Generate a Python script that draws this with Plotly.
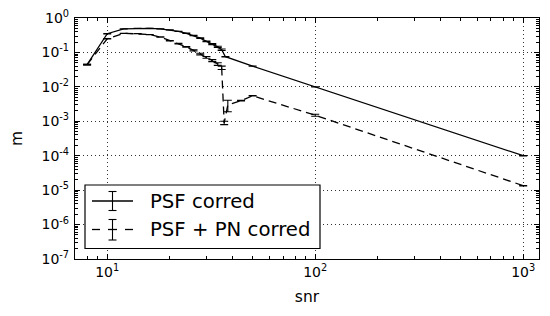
import plotly.graph_objects as go

# PSF corred (solid)
snr_a = [8, 10, 12, 14, 16, 18, 20, 22, 24, 26, 28, 30, 32, 34, 35.5, 37, 50, 100, 1000]
m_a = [0.044, 0.35, 0.48, 0.50, 0.50, 0.48, 0.45, 0.41, 0.36, 0.31, 0.26, 0.21, 0.175, 0.145, 0.12, 0.075, 0.040, 0.010, 0.0001]
err_a = [0.001, 0.003, 0.002, 0.002, 0.002, 0.002, 0.003, 0.003, 0.004, 0.004, 0.005, 0.005, 0.006, 0.006, 0.006, 0.001, 0.0005, 0.0001, 0.000001]

# PSF + PN corred (dashed)
snr_b = [8, 10, 12, 14, 16, 18, 20, 22, 24, 26, 28, 30, 32, 34, 35.5, 36.5, 38, 44, 50, 100, 1000]
m_b = [0.044, 0.25, 0.36, 0.35, 0.33, 0.28, 0.22, 0.18, 0.145, 0.115, 0.09, 0.072, 0.058, 0.046, 0.036, 0.0009, 0.0030, 0.0040, 0.0055, 0.0015, 0.0000135]
err_b = [0.001, 0.003, 0.002, 0.002, 0.002, 0.003, 0.003, 0.004, 0.004, 0.005, 0.005, 0.004, 0.004, 0.004, 0.004, 0.0001, 0.0011, 0.0001, 0.0001, 0.0001, 0.0000002]

series_names = ["PSF corred", "PSF + PN corred"]

xtick_vals = [10, 100, 1000]
xtick_text = ["10<sup>1</sup>", "10<sup>2</sup>", "10<sup>3</sup>"]
ytick_vals = [1, 1e-1, 1e-2, 1e-3, 1e-4, 1e-5, 1e-6, 1e-7]
ytick_text = ["10<sup>0</sup>", "10<sup>-1</sup>", "10<sup>-2</sup>", "10<sup>-3</sup>",
              "10<sup>-4</sup>", "10<sup>-5</sup>", "10<sup>-6</sup>", "10<sup>-7</sup>"]
x_minor = [k * 10 ** e for e in range(0, 4) for k in range(2, 10)]
y_minor = [k * 10.0 ** e for e in range(-7, 0) for k in range(2, 10)]

fig = go.Figure()
fig.add_trace(go.Scatter(
    x=snr_a, y=m_a, mode="lines", name=series_names[0], showlegend=False,
    line=dict(color="black", width=1.3),
    error_y=dict(type="data", array=err_a, color="black", thickness=1.1, width=4),
))
fig.add_trace(go.Scatter(
    x=snr_b, y=m_b, mode="lines", name=series_names[1], showlegend=False,
    line=dict(color="black", width=1.3, dash="8px,5px"),
    error_y=dict(type="data", array=err_b, color="black", thickness=1.1, width=4),
))

axis_common = dict(
    type="log", showline=True, linecolor="black", linewidth=1.2, mirror="allticks",
    ticks="inside", ticklen=5, tickcolor="black", tickwidth=1,
    showgrid=True, gridcolor="#333", gridwidth=0.8, griddash="1px,3px",
    zeroline=False, automargin=False,
    tickfont=dict(family="DejaVu Sans", size=14, color="black"),
)

fig.update_xaxes(
    **axis_common, range=[0.845, 3.076], tickvals=xtick_vals, ticktext=xtick_text,
    minor=dict(ticks="inside", ticklen=3, tickcolor="black", tickvals=x_minor, showgrid=False),
    title=dict(text="snr", font=dict(family="DejaVu Sans", size=15.5, color="black"), standoff=12),
)
fig.update_yaxes(
    **axis_common, range=[-7, 0], tickvals=ytick_vals, ticktext=ytick_text, ticklabelstandoff=2,
    minor=dict(ticks="inside", ticklen=3, tickcolor="black", tickvals=y_minor, showgrid=False),
    title=dict(text="m", font=dict(family="DejaVu Sans", size=15.5, color="black"), standoff=17),
)

# ---- hand-drawn legend box (matplotlib style with errorbar glyphs) ----
PL, PR, PT, PB = 75.0, 539.0, 18.0, 259.0  # plot area in screen px


def px(x):
    return (x - PL) / (PR - PL)


def py(y):
    return (PB - y) / (PB - PT)


shapes = []
line_style = dict(color="black", width=1.3)
shapes.append(dict(type="rect", xref="paper", yref="paper", x0=px(85), x1=px(320), y0=py(248.5), y1=py(185),
                   line=dict(color="black", width=1.2), fillcolor="white", layer="above"))
rows = [(201, 191.5, 210.5, [(92, 133)]), (229.5, 219.5, 240, [(92, 100), (108, 117), (125, 133)])]
for yc, yb0, yb1, segs in rows:
    for a, b in segs:
        shapes.append(dict(type="line", xref="paper", yref="paper", x0=px(a), x1=px(b), y0=py(yc), y1=py(yc),
                           line=line_style, layer="above"))
    shapes.append(dict(type="line", xref="paper", yref="paper", x0=px(112.5), x1=px(112.5), y0=py(yb0), y1=py(yb1),
                       line=dict(color="black", width=1.1), layer="above"))
    for yy in (yb0, yb1):
        shapes.append(dict(type="line", xref="paper", yref="paper", x0=px(108.5), x1=px(116.5), y0=py(yy), y1=py(yy),
                           line=dict(color="black", width=1.1), layer="above"))

annotations = []
for (yc, _, _, _), name in zip(rows, series_names):
    annotations.append(dict(xref="paper", yref="paper", x=px(148), y=py(yc), text=name, showarrow=False,
                            xanchor="left", yanchor="middle",
                            font=dict(family="DejaVu Sans", size=19.7, color="black")))

# page body has an 8px default margin, so the figure is 8px smaller and margins shifted
fig.update_layout(
    width=542, height=308,
    margin=dict(l=67, r=11, t=10, b=57),
    paper_bgcolor="white", plot_bgcolor="white",
    font=dict(family="DejaVu Sans", color="black"),
    shapes=shapes, annotations=annotations,
    showlegend=False,
)

fig.write_html("out.html")
